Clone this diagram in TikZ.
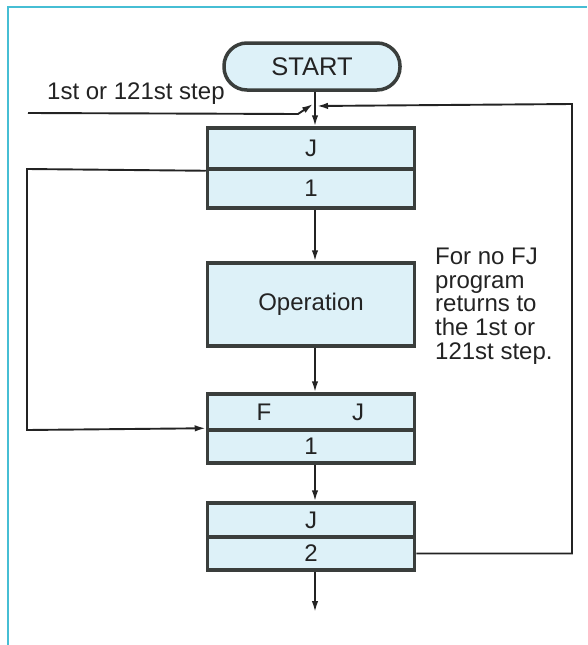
\documentclass[tikz,border=0pt]{standalone}
\usepackage{fontspec}
\setmainfont{Liberation Sans}
\usetikzlibrary{arrows.meta}
\definecolor{boxfill}{RGB}{221,241,248}
\definecolor{boxline}{RGB}{58,62,60}
\definecolor{framecyan}{RGB}{70,190,212}
\definecolor{inkc}{RGB}{35,35,35}
\begin{document}
\begin{tikzpicture}[x=1pt,y=-1pt,
  font=\fontsize{24}{23.8}\selectfont,
  cell/.style={draw=boxline, fill=boxfill, line width=3.5pt, minimum width=207pt, inner sep=0pt, text=inkc},
  conn/.style={draw=inkc, line width=1.9pt},
  arr/.style={conn, -{Latex[length=11pt,width=6.5pt]}},
  lbl/.style={inner sep=0pt, text=inkc},
]
\useasboundingbox (0,0) rectangle (587,645);
\draw[framecyan, line width=2.5pt] (8,645) -- (8,7) -- (587,7);

\coordinate (jn) at (315,105);
\node[cell, rounded corners=23pt, minimum width=176pt, minimum height=47pt, font=\fontsize{25.5}{26}\selectfont] (start) at (312,66.5) {START};

\node[cell, minimum height=41pt] (b1j) at (311,148.5) {J};
\node[cell, minimum height=39pt] (b1n) at (311,188.5) {1};

\node[cell, minimum height=83pt] (op) at (311,304.5) {Operation};

\node[cell, minimum height=36pt] (b3j) at (311,412) {};
\node[cell, minimum height=33pt] (b3n) at (311,446.5) {1};
\node[lbl] (f3) at (264,412) {F};
\node[lbl] (j3) at (358,412) {J};

\node[cell, minimum height=34pt] (b4j) at (311,520) {J};
\node[cell, minimum height=33pt] (b4n) at (311,553.5) {2};

\node[lbl, anchor=base west] (steplbl) at (47,99) {1st or 121st step};
\node[lbl, anchor=north west, align=left] (note) at (435,247.5) {For no FJ\\program\\returns to\\the 1st or\\121st step.};

% connectors
\coordinate (entry) at (28,113);
\coordinate (bend) at (298,114);
\draw[conn] (start.south -| jn) -- (jn);
\draw[arr] (jn) -- (b1j.north -| jn);
\draw[arr] (entry) -- (bend) -- ([xshift=-2pt,yshift=1pt]jn);
\coordinate (rb) at (572,553.5);
\coordinate (rt) at (572,104);
\draw[arr] (b4n.east) -- (rb) -- (rt) -- ([xshift=2pt,yshift=-1pt]jn);

\draw[arr] (b1n.south -| jn) -- (op.north -| jn);
\draw[arr] (op.south -| jn) -- (b3j.north -| jn);
\draw[arr] (b3n.south -| jn) -- (b4j.north -| jn);
\coordinate (out) at (315,612);
\draw[arr] (b4n.south -| jn) -- (out);

\coordinate (lt) at (27,169);
\coordinate (lb) at (27,430);
\draw[arr] (b1j.south west) -- (lt) -- (lb) -- (b3n.north west);
\end{tikzpicture}
\end{document}
